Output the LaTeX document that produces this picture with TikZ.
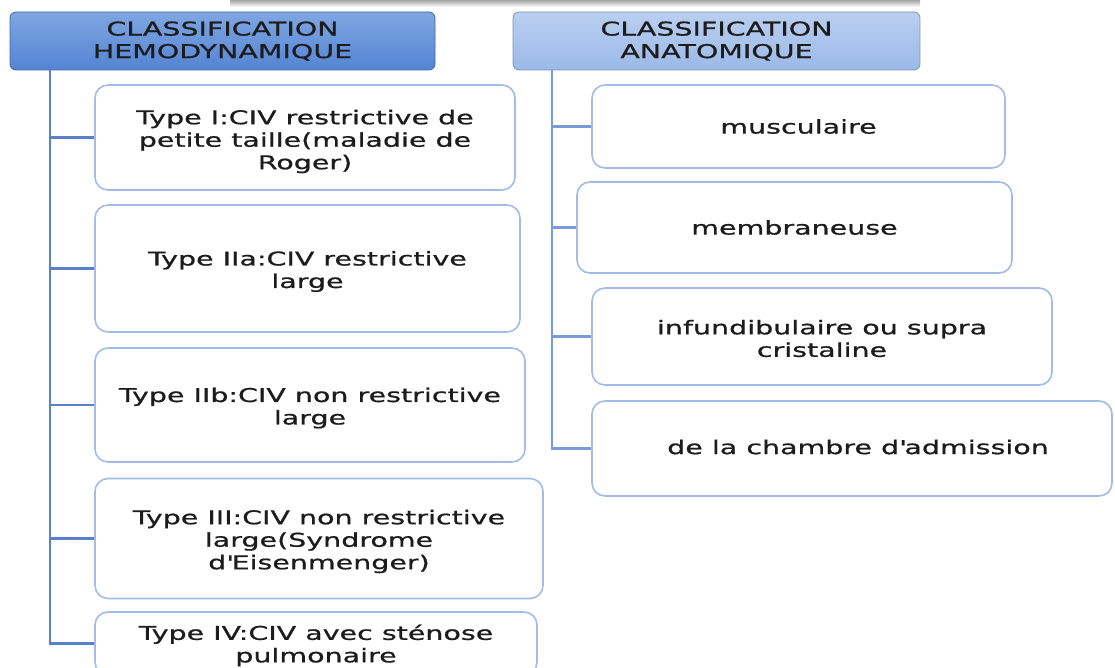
\documentclass[tikz,border=0pt]{standalone}
\usepackage{fontspec}
\setmainfont{DejaVu Sans}[FakeStretch=1.5,FakeBold=0.8]
\definecolor{hdA}{HTML}{5484D2}
\definecolor{hdAtop}{HTML}{7FA6E2}
\definecolor{hdB}{HTML}{9BB9E8}
\definecolor{hdBtop}{HTML}{BACFF0}
\definecolor{boxline}{HTML}{A3BCE6}
\definecolor{connA}{HTML}{5A80CC}
\definecolor{connB}{HTML}{7B9BD8}
\definecolor{txt}{HTML}{1C1C1C}
\begin{document}
\begin{tikzpicture}[x=1pt,y=-1pt,
  every node/.style={font=\fontsize{19}{22.5}\selectfont, text=txt, align=center, inner sep=0pt},
  hdr/.style={rectangle, rounded corners=6pt, draw=#1!80!black, line width=0.8pt},
  itembox/.style={rectangle, rounded corners=13pt, draw=boxline, line width=1.6pt, fill=white},
  lconn/.style={draw=connA, line width=2.2pt},
  rconn/.style={draw=connB, line width=2.2pt}]
\useasboundingbox (0,0) rectangle (1115,668);
\fill[white] (0,0) rectangle (1115,668);
% top shadow of a box above
\shade[top color=black!40, bottom color=white] (230,-1) rectangle (920,7);
% headers
\node[hdr=hdA, top color=hdAtop, bottom color=hdA, minimum width=425pt, minimum height=58pt] (h1) at (222.5,41) {CLASSIFICATION\\HEMODYNAMIQUE};
\node[hdr=hdB, top color=hdBtop, bottom color=hdB, minimum width=407pt, minimum height=58pt] (h2) at (716.5,41) {CLASSIFICATION\\ANATOMIQUE};
% left boxes
\node[itembox, minimum width=420pt, minimum height=105pt] (b1) at (305,137.5) {};
\node (b1t) at ([yshift=-4pt]b1.center) {Type I:CIV restrictive de\\petite taille(maladie de\\Roger)};
\node[itembox, minimum width=425pt, minimum height=127pt] (b2) at (307.5,268.5) {};
\node (b2t) at ([yshift=-3pt]b2.center) {Type IIa:CIV restrictive\\large};
\node[itembox, minimum width=430pt, minimum height=114pt] (b3) at (310,405) {};
\node (b3t) at ([yshift=-3pt]b3.center) {Type IIb:CIV non restrictive\\large};
\node[itembox, minimum width=448pt, minimum height=120pt] (b4) at (319,538.5) {};
\node (b4t) at ([yshift=-3pt]b4.center) {Type III:CIV non restrictive\\large(Syndrome\\d\textquotesingle Eisenmenger)};
\node[itembox, minimum width=442pt, minimum height=63pt] (b5) at (316,643.5) {};
\node (b5t) at ([yshift=-2pt]b5.center) {Type IV:CIV avec sténose\\pulmonaire};
% right boxes
\node[itembox, minimum width=413pt, minimum height=83pt] (r1) at (798.5,126.5) {musculaire};
\node[itembox, minimum width=435pt, minimum height=91pt] (r2) at (794.5,227.5) {membraneuse};
\node[itembox, minimum width=460pt, minimum height=97pt] (r3) at (822,336.5) {};
\node (r3t) at ([yshift=-2pt]r3.center) {infundibulaire ou supra\\cristaline};
\node[itembox, minimum width=520pt, minimum height=95pt] (r4) at (852,448.5) {};
\node (r4t) at (858,447) {de la chambre d\textquotesingle admission};
% connectors left
\coordinate (lt) at (50,70);
\draw[lconn] (lt) |- (b5.west);
\foreach \b in {b1,b2,b3,b4} \draw[lconn] (lt |- \b.west) -- (\b.west);
% connectors right
\coordinate (rt) at (552,70);
\draw[rconn] (rt) |- (r4.west);
\foreach \b in {r1,r2,r3} \draw[rconn] (rt |- \b.west) -- (\b.west);
\end{tikzpicture}
\end{document}
